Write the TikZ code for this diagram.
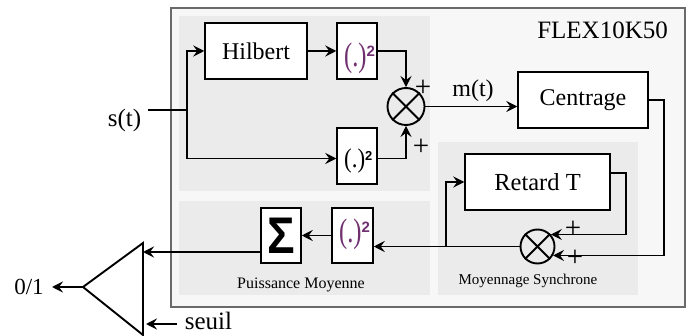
\documentclass[tikz,border=0pt]{standalone}
\usepackage{fontspec}
\setmainfont{Liberation Serif}
\newfontfamily\arialfont{Liberation Sans}
\usetikzlibrary{arrows.meta}
\definecolor{outerfill}{HTML}{F7F7F7}
\definecolor{panelfill}{HTML}{EBEBEB}
\definecolor{outerline}{HTML}{6A6A6A}
\definecolor{sqpurple}{RGB}{112,48,112}
\newcommand\mysqpurple{\textcolor{sqpurple}{\scalebox{0.72}[1]{\fontsize{34}{34}\selectfont(.)}\raisebox{10pt}{\arialfont\bfseries\fontsize{15}{15}\selectfont 2}}}
\newcommand\mysqblack{\scalebox{0.85}[1]{\fontsize{27}{27}\selectfont(.)}\raisebox{6.5pt}{\arialfont\bfseries\fontsize{13}{13}\selectfont 2}}
\begin{document}
\begin{tikzpicture}[x=1pt,y=-1pt,
  blk/.style={draw, line width=1.5pt, fill=white, inner sep=0pt},
  ln/.style={line width=1.9pt},
  arr/.style={line width=1.9pt, -{Stealth[length=11pt,width=11pt,inset=4pt]}},
  mult/.style={draw, circle, line width=1.9pt, inner sep=0pt},
  txt/.style={inner sep=0pt},
  bigt/.style={font=\fontsize{24}{24}\selectfont},
  plus/.style={inner sep=0pt, font=\fontsize{29}{29}\selectfont},
]
\useasboundingbox (0,0) rectangle (692,336);
\fill[white] (0,0) rectangle (692,336);
% outer FPGA box and panels
\draw[fill=outerfill, draw=outerline, line width=1.2pt] (171,8) rectangle (685,307);
\fill[panelfill] (179,16) rectangle (430,191);
\fill[panelfill] (179,201) rectangle (430,295);
\fill[panelfill] (438,142) rectangle (638,295);

\node[txt, anchor=east, font=\fontsize{25}{25}\selectfont] (flex) at (668,30) {FLEX10K50};

% blocks
\node[blk, bigt, minimum width=102pt, minimum height=56pt] (hilbert) at (256,51) {Hilbert};
\node[blk, minimum width=40pt, minimum height=56pt] (sq1) at (357,51) {};
\node[txt, anchor=base west] (sq1t) at (344,67) {\mysqpurple};
\node[blk, minimum width=40pt, minimum height=56pt] (sq2) at (357,156) {};
\node[txt, anchor=base west] (sq2t) at (344,167.2) {\mysqblack};
\node[mult, minimum size=37pt] (c1) at (406,106.5) {};
\draw[ln] (c1.45) -- (c1.225) (c1.135) -- (c1.-45);
\node[blk, bigt, minimum width=130pt, minimum height=56pt] (centrage) at (583,100) {Centrage};
\node[blk, font=\fontsize{24.5}{24.5}\selectfont, minimum width=145pt, minimum height=56pt] (retard) at (537.5,182) {Retard T};
\node[mult, minimum size=34pt] (c2) at (537.5,246.5) {};
\draw[ln] (c2.45) -- (c2.225) (c2.135) -- (c2.-45);
\node[blk, minimum width=41pt, minimum height=55pt] (sqp) at (352.5,235.5) {};
\node[txt, anchor=base west] (sqpt) at (339,242.3) {\mysqpurple};
\node[blk, minimum width=40pt, minimum height=55pt] (sigma) at (281,235.5) {\scalebox{1}[1.12]{\arialfont\bfseries\fontsize{46}{46}\selectfont Σ}};

% input
\node[txt, font=\fontsize{25}{25}\selectfont] (st) at (124.5,120) {s(t)};
\coordinate (sin) at (148,110);
\coordinate (split) at (187,110);
\draw[ln] (sin) -- (split);
\draw[arr] (split) |- (hilbert.west);
\draw[arr] (split) |- ([yshift=-2.5pt]sq2.west);
\draw[arr] (hilbert.east) -- (sq1.west);
\draw[arr] (sq1.east) -| (c1.north);
\draw[arr] ([yshift=-2.5pt]sq2.east) -| (c1.south);
\node[plus] (p1) at (423,88) {+};
\node[plus] (p2) at (421,147) {+};
\draw[arr] (c1.east) -- (centrage.west |- c1.east);
\node[txt, bigt] (mt) at (473,91) {m(t)};

% synchronous averaging
\draw[arr] (centrage.east) -- ++(15,0) |- (c2.-30);
\draw[arr] ([yshift=9pt]retard.east) -- ++(15,0) |- (c2.42.6);
\node[plus] (p3) at (573,229) {+};
\node[plus] (p4) at (575,258) {+};
\coordinate (br) at (446,246.5);
\draw[arr] (c2.west) -- (sqp.east |- c2.west);
\draw[arr] (br) |- (retard.west);
\node[txt, font=\fontsize{15}{15}\selectfont] (moy) at (528,281) {Moyennage Synchrone};

% average power
\draw[arr] (sqp.west) -- (sigma.east);
\node[txt, font=\fontsize{16}{16}\selectfont] (puis) at (301,285) {Puissance Moyenne};

% comparator
\coordinate (ttop) at (143,243);
\coordinate (tbot) at (143,335);
\coordinate (tapex) at (83,287);
\coordinate (tin) at (143,252);
\draw[ln, line join=miter] (ttop) -- (tbot) -- (tapex) -- cycle;
\draw[arr] (sigma.west |- tin) -- (tin);
\coordinate (out) at (52,287);
\draw[arr] (tapex) -- (out);
\node[txt, font=\fontsize{23}{23}\selectfont] (o1) at (29,287) {0/1};
\coordinate (sstart) at (177,324);
\coordinate (send) at (146,324);
\draw[arr] (sstart) -- (send);
\node[txt, font=\fontsize{25}{25}\selectfont] (seuil) at (208.5,321) {seuil};
\end{tikzpicture}
\end{document}
